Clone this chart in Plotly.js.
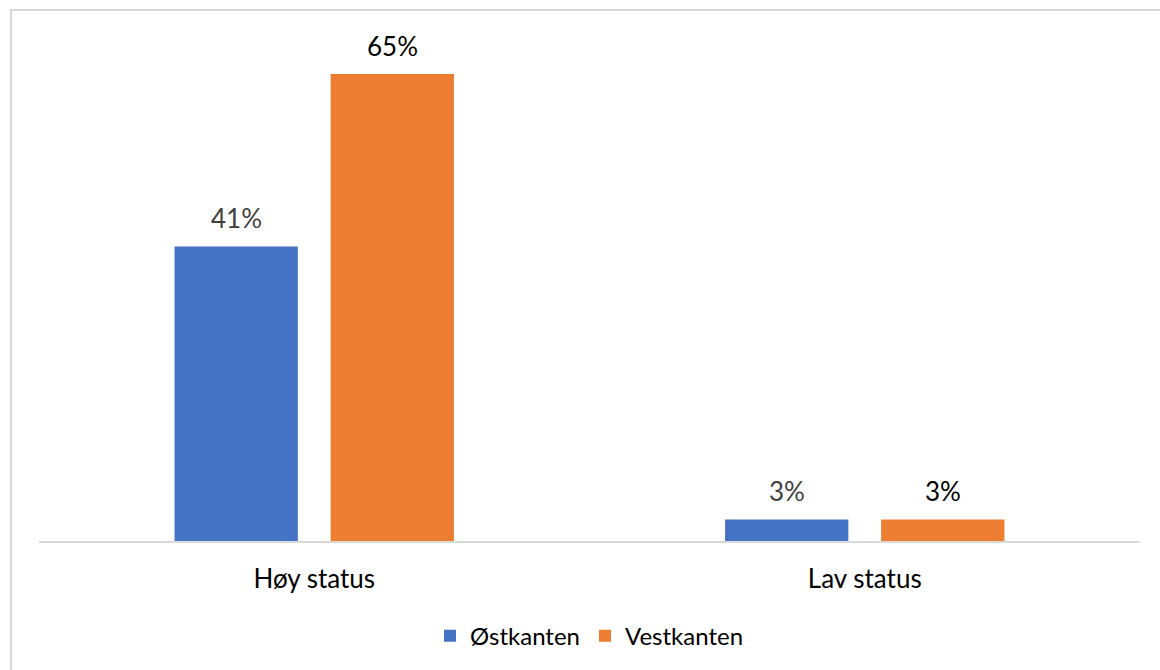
<!DOCTYPE html>
<html>
<head>
<meta charset="utf-8">
<script src="https://cdn.plot.ly/plotly-3.0.1.min.js"></script>
<style>
  html, body { margin: 0; padding: 0; background: #fff; }
  #wrap { position: relative; width: 1160px; height: 670px; overflow: hidden; }
  #chart { position: absolute; left: 0; top: 0; width: 1160px; height: 670px; }
  #frame { position: absolute; left: 10px; top: 9px; width: 1200px; height: 700px;
           border-left: 2px solid #d9d9d9; border-top: 2px solid #d9d9d9; pointer-events: none; }
</style>
</head>
<body>
<div id="wrap">
  <div id="chart"></div>
  <div id="frame"></div>
</div>
<script>
const categories = ["Høy status", "Lav status"];
const seriesNames = ["Østkanten", "Vestkanten"];
const ostkanten = [41, 3];
const vestkanten = [65, 3];
const colors = ["#4472c4", "#ed7d31"];
const labelColors = ["#404040", "#000000"];

const font = "Lato, 'Open Sans', sans-serif";
const series = [ostkanten, vestkanten];

const traces = series.map((vals, i) => ({
  type: "bar",
  name: seriesNames[i],
  x: categories,
  y: vals,
  marker: { color: colors[i] },
  hoverinfo: "skip"
}));

// data labels placed above each bar (offset by the bar's group slot)
const slot = 156; // px between the two bars' centres in a group
const annotations = [];
series.forEach((vals, i) => {
  vals.forEach((v, j) => {
    annotations.push({
      x: categories[j], y: v, xref: "x", yref: "y",
      text: v + "%",
      showarrow: false,
      xshift: (i - 0.5) * slot,
      yanchor: "middle",
      yshift: 28,
      font: { family: font, size: 26, color: labelColors[i] }
    });
  });
});

const layout = {
  width: 1160,
  height: 670,
  margin: { l: 39, r: 20, t: 38, b: 129 },
  paper_bgcolor: "#ffffff",
  plot_bgcolor: "#ffffff",
  barmode: "group",
  bargap: 0.433,
  bargroupgap: 0.21,
  font: { family: font, size: 20, color: "#000" },
  showlegend: true,
  legend: {
    orientation: "h",
    x: 0.5, xanchor: "center",
    y: -0.189, yanchor: "middle",
    font: { family: font, size: 24, color: "#000" },
    itemwidth: 30
  },
  annotations: annotations,
  xaxis: {
    type: "category",
    showline: true, linecolor: "#d9d9d9", linewidth: 2,
    ticks: "", showgrid: false, zeroline: false,
    tickfont: { family: font, size: 26, color: "#000" },
    ticklabelstandoff: 14
  },
  yaxis: {
    range: [0, 70],
    visible: false,
    showgrid: false, zeroline: false
  }
};

Plotly.newPlot("chart", traces, layout, { displayModeBar: false, staticPlot: true });
</script>
</body>
</html>
